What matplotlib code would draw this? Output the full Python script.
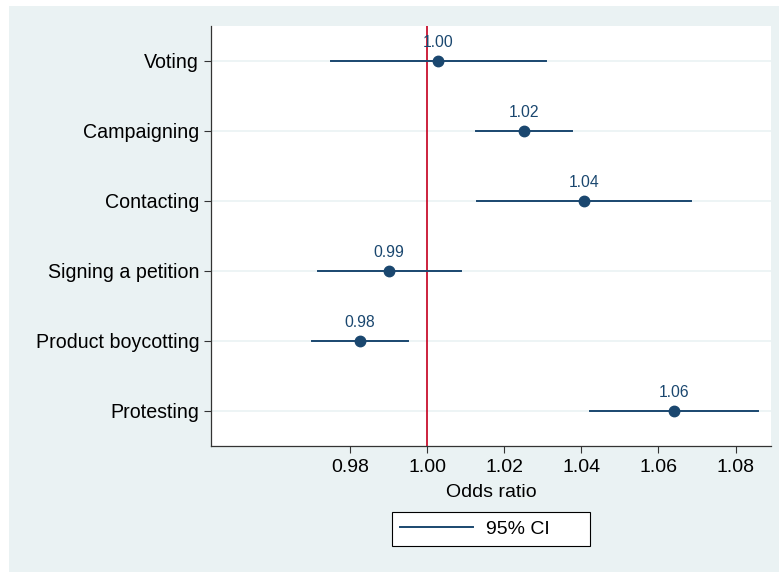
import matplotlib
matplotlib.use("Agg")
import matplotlib.pyplot as plt
from matplotlib.patches import Rectangle

plt.rcParams['font.family'] = ['Liberation Sans', 'DejaVu Sans']

# odds ratios with 95% CI
categories = ["Voting", "Campaigning", "Contacting", "Signing a petition",
              "Product boycotting", "Protesting"]
odds = [1.0029, 1.0250, 1.0407, 0.9900, 0.9826, 1.0640]
ci_low = [0.9750, 1.0126, 1.0129, 0.9716, 0.9701, 1.0423]
ci_high = [1.0309, 1.0375, 1.0685, 1.0088, 0.9950, 1.0857]
value_labels = ["1.00", "1.02", "1.04", "0.99", "0.98", "1.06"]
xticks = [0.98, 1.00, 1.02, 1.04, 1.06, 1.08]

navy = "#1a476f"
bg = "#eaf2f3"

fig = plt.figure(figsize=(7.79, 5.72), dpi=100)
fig.patch.set_facecolor("white")
fig.patches.append(Rectangle((9 / 779, 0), 1, 1 - 6 / 572, transform=fig.transFigure,
                             facecolor=bg, edgecolor="none", zorder=-5))

ax = fig.add_axes([211 / 779, 1 - 446 / 572, (770.7 - 211) / 779, (446 - 26) / 572])
ax.set_facecolor("white")

ypos = list(range(1, len(categories) + 1))

for y in ypos:
    ax.axhline(y, color=bg, lw=1.2, zorder=1)

ax.axvline(1.0, color="#c8102e", lw=1.3, zorder=2)

ci_line = None
for y, o, lo, hi, lab in zip(ypos, odds, ci_low, ci_high, value_labels):
    ci_line, = ax.plot([lo, hi], [y, y], color=navy, lw=1.4, zorder=3)
    ax.plot(o, y, "o", color=navy, markersize=7.5, zorder=4)
    ax.annotate(lab, (o, y), xytext=(0, 13), textcoords="offset points",
                ha="center", va="center", fontsize=11.3, color=navy)

ax.set_xlim(0.94396, 1.0891)
ax.set_ylim(6.5, 0.5)
ax.set_yticks(ypos)
ax.set_yticklabels(categories, fontsize=14.1)
ax.set_xticks(xticks)
ax.set_xticklabels([f"{t:.2f}" for t in xticks], fontsize=14)
ax.tick_params(axis="both", direction="out", length=5, width=0.8, color="#333333")
ax.tick_params(axis="y", pad=3.5)
ax.tick_params(axis="x", pad=4)

for side in ["top", "right"]:
    ax.spines[side].set_visible(False)
for side in ["left", "bottom"]:
    ax.spines[side].set_linewidth(0.9)
    ax.spines[side].set_color("#333333")

ax.set_xlabel("Odds ratio", fontsize=14, labelpad=6)

leg = fig.legend([ci_line], ["95% CI      "], loc="center",
                 bbox_to_anchor=(491 / 779, 1 - 529 / 572),
                 fontsize=14, frameon=True, fancybox=False, edgecolor="black",
                 framealpha=1, handlelength=3.75, handletextpad=0.67,
                 borderpad=0.4, borderaxespad=0)
leg.get_frame().set_linewidth(0.8)
leg.get_frame().set_boxstyle("square", pad=0)

fig.savefig("out.png", dpi=100)
